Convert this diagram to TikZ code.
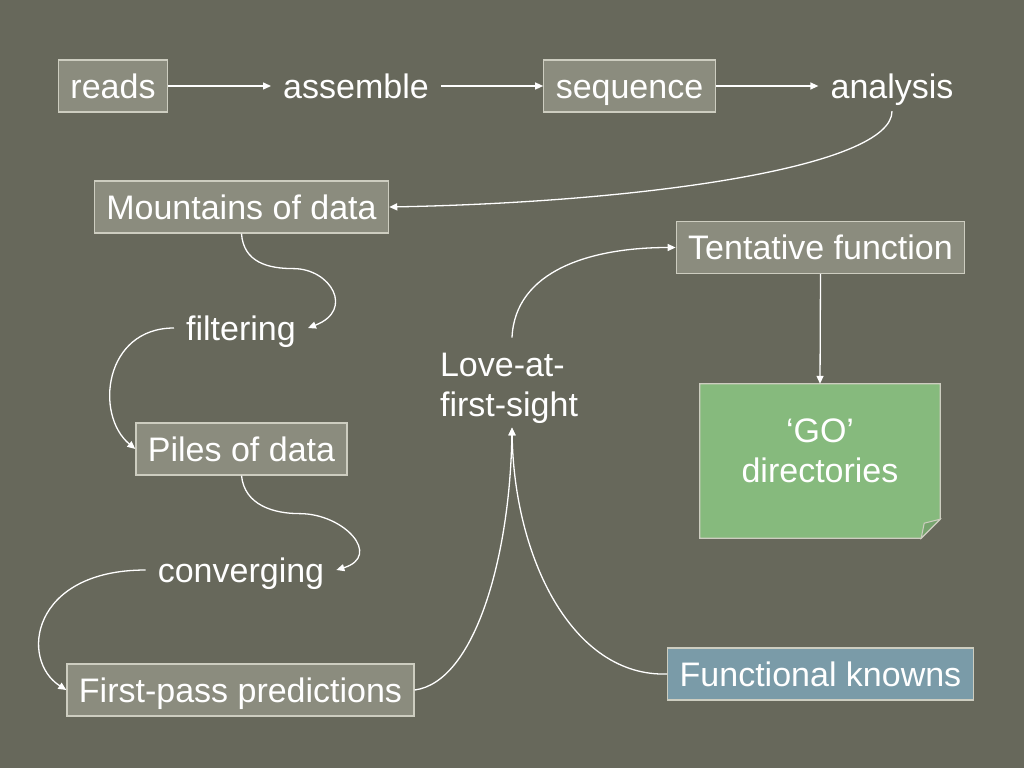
\documentclass[tikz,border=0pt]{standalone}
\usepackage{fontspec}
\setmainfont{Liberation Sans}
\usepackage{xcolor}
\usetikzlibrary{arrows, arrows.meta}
\definecolor{slidebg}{RGB}{103,104,91}
\definecolor{boxfill}{RGB}{139,140,126}
\definecolor{boxline}{RGB}{205,205,192}
\definecolor{gogreen}{RGB}{134,186,125}
\definecolor{knownblue}{RGB}{122,155,168}

\begin{document}
\begin{tikzpicture}[x=1pt, y=-1pt,
	every node/.style={text=white, font=\fontsize{34}{40}\selectfont},
	box/.style={draw=boxline, line width=1.2pt, fill=boxfill, inner xsep=12pt, inner ysep=0pt, minimum height=52pt, text height=24pt, text depth=0pt},
	word/.style={inner xsep=12pt, inner ysep=13pt, text height=24pt, text depth=0pt},
	flow/.style={draw=white, line width=1.3pt, -{Triangle[length=8pt, width=7pt]}}]
					% background
					\fill[slidebg] (0,0) rectangle (1024,768);
					% top row
					\node[box] (reads) at (113,86) {reads};
					\node[word] (assemble) at (356,86) {assemble};
					\node[box] (sequence) at (629.5,86) {sequence};
					\node[word] (analysis) at (892,86) {analysis};
					% left column
					\node[box] (mountains) at (241.5,207) {Mountains of data};
					\node[word] (filtering) at (241,328) {filtering};
					\node[box] (piles) at (241.5,449) {Piles of data};
					\node[word] (converging) at (241,570) {converging};
					\node[box] (firstpass) at (240.5,690) {First-pass predictions};
					% right side
					\node[align=left, inner xsep=0pt, inner ysep=4pt] (love) at (509,388) {Love-at-\\first-sight};
					\node[box] (tentative) at (820.5,247.5) {Tentative function};
					\node[box, fill=knownblue] (knowns) at (820.5,674) {Functional knowns};
					% GO note with folded corner
					\node[minimum width=240pt, minimum height=154pt, inner sep=0pt] (go) at (820,461) {};
					\filldraw[fill=gogreen, draw=boxline, line width=1.2pt] (go.north west) -- (go.north east) -- ([yshift=19pt]go.south east) -- ([xshift=-19pt]go.south east) -- (go.south west) -- cycle;
					\filldraw[fill=gogreen!88!black, draw=boxline, line width=1pt] ([xshift=-19pt]go.south east) -- ([xshift=-16pt, yshift=15pt]go.south east) -- ([yshift=19pt]go.south east) -- cycle;
					\node[align=center, inner sep=0pt] (golabel) at ([yshift=10pt]go.center) {‘GO’\\directories};
					% straight arrows
					\draw[flow] (reads.east) -- (assemble.west);
					\draw[flow] (assemble.east) -- (sequence.west);
					\draw[flow] (sequence.east) -- (analysis.west);
					\draw[flow] (tentative.south) -- (go.north);
					% curved arrows
					\draw[flow] (analysis.south) .. controls +(0,55) and +(260,-5) .. (mountains.east);
					\draw[flow] (mountains.south) .. controls +(2,29) and +(-25,0) .. ++(52,35) .. controls +(37,0) and +(47,-18) .. (filtering.east);
					\draw[flow] (filtering.west) .. controls +(-70,0) and +(-41,-34) .. (piles.west);
					\draw[flow] (piles.south) .. controls +(3,30) and +(-25,0) .. ++(58,38) .. controls +(45,0) and +(46,-14) .. (converging.east);
					\draw[flow] (converging.west) .. controls +(-115,0) and +(-47,-30) .. (firstpass.west);
					\draw[flow] (firstpass.east) .. controls +(60,-8) and +(-2,130) .. ([xshift=3pt]love.south);
					\draw[flow] (knowns.west) .. controls +(-95,3) and +(2,130) .. ([xshift=3pt]love.south);
					\draw[flow] ([xshift=3pt, yshift=11pt]love.north) .. controls +(3,-67) and +(-85,0) .. (tentative.west);
				\end{tikzpicture}
\end{document}
